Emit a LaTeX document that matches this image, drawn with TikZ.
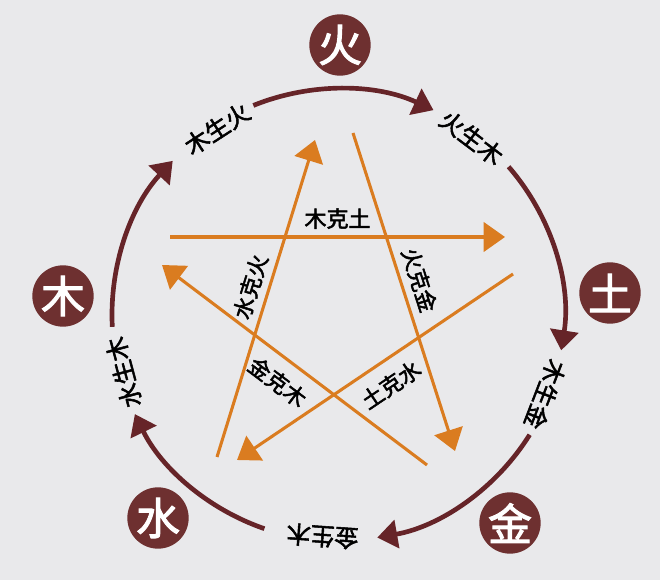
\documentclass[tikz,border=0pt]{standalone}
\usepackage{fontspec}
\newfontfamily\cjk[FakeBold=2.2]{Noto Sans CJK SC}
\usetikzlibrary{arrows.meta}
\definecolor{bgGrey}{RGB}{233,233,235}
\definecolor{shengRed}{RGB}{102,36,40}
\definecolor{elemRed}{RGB}{110,48,48}
\definecolor{keOrange}{RGB}{218,124,32}

\begin{document}
\begin{tikzpicture}[x=0.75pt,y=0.75pt,yscale=-1,xscale=1,
	elem/.style={circle,fill=elemRed,text=white,minimum size=46pt,inner sep=0pt,font=\cjk\fontsize{33pt}{33pt}\selectfont},
	sheng/.style={draw=shengRed,line width=3.5pt,-{Triangle[length=15pt,width=21pt]}},
	shenglabel/.style={font=\cjk\fontsize{18pt}{18pt}\selectfont,text=black,inner sep=0pt},
	ke/.style={draw=keOrange,line width=2.3pt,-{Triangle[length=16pt,width=22pt]}},
	kelabel/.style={font=\cjk\fontsize{16.5pt}{16.5pt}\selectfont,text=black,inner sep=5pt}]
	\useasboundingbox (0,0) rectangle (660,580);
	\fill[bgGrey] (0,0) rectangle (660,580);
	
	%centre of the outer ring
	\coordinate (o) at (338,315);
	
	% Element nodes
	\node[elem] (fire)  at (340,45)  {火};
	\node[elem] (wood)  at (63,296)  {木};
	\node[elem] (earth) at (610,293) {土};
	\node[elem] (water) at (158,518) {水};
	\node[elem] (metal) at (510,523) {金};
	
	%Outer ring arcs (yscale=-1, so angles are negated)
	\foreach \a/\b in {-183/-137, -112/-65, -41/9, 32/80, 109/154}
		\draw[sheng] ([shift={(\a:226)}]o) arc[start angle=\a, end angle=\b, radius=226];
	
	% Ring labels
	\foreach \t/\txt in {-123/木生火, -53/火生木, 21/木生金, 94/金生木, -195/水生木}
		\node[shenglabel,rotate={-(\t)-90}] at ([shift={(\t:222)}]o) {\txt};
	
	%Star line ends
	\coordinate (ke-wood-a)  at (170,237);
	\coordinate (ke-wood-b)  at (505,237);
	\coordinate (ke-water-a) at (217,457);
	\coordinate (ke-water-b) at (315,140);
	\coordinate (ke-fire-a)  at (353,133);
	\coordinate (ke-fire-b)  at (455,451);
	\coordinate (ke-earth-a) at (513,274);
	\coordinate (ke-earth-b) at (237,460);
	\coordinate (ke-metal-a) at (427,465);
	\coordinate (ke-metal-b) at (162,265);
	
	%Star lines
	\draw[ke] (ke-wood-a) -- (ke-wood-b) node[kelabel,midway,anchor=south] {木克土};
	\draw[ke] (ke-water-a) -- (ke-water-b) node[kelabel,pos=0.52,rotate=72.8,anchor=south] {水克火};
	\draw[ke] (ke-fire-a) -- (ke-fire-b) node[kelabel,pos=0.48,rotate=-72.2,anchor=south] {火克金};
	\draw[ke] (ke-earth-a) -- (ke-earth-b) node[kelabel,pos=0.49,rotate=34,anchor=north,inner sep=9pt] {土克水};
	\draw[ke] (ke-metal-a) -- (ke-metal-b) node[kelabel,pos=0.51,rotate=-37,anchor=north,inner sep=9pt] {金克木};
	
\end{tikzpicture}
\end{document}
